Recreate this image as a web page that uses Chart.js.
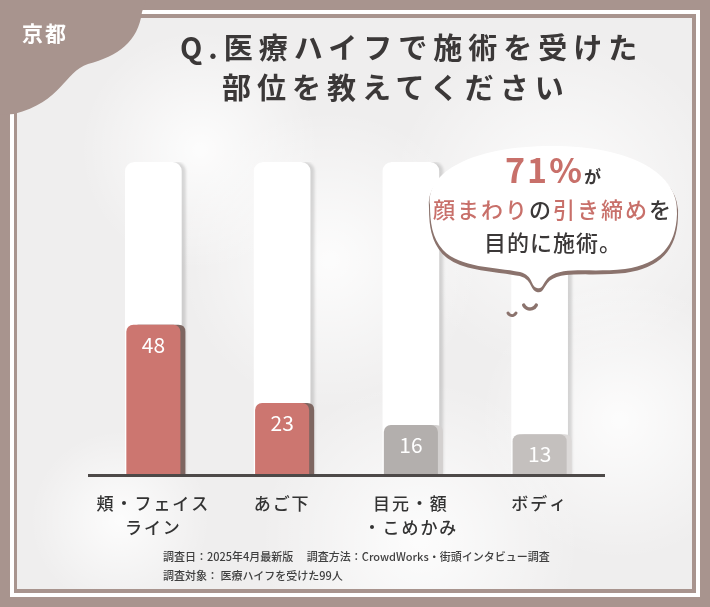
<!DOCTYPE html>
<html>
<head>
<meta charset="utf-8">
<script src="https://cdn.jsdelivr.net/npm/chart.js@4"></script>
<style>
body { margin: 0; background: #a8948e; }
#wrap { position: relative; width: 710px; height: 607px; overflow: hidden; font-family: "Noto Sans CJK JP", "Noto Sans", sans-serif; }
canvas { position: absolute; left: 0; top: 0; }
.t { position: absolute; white-space: nowrap; line-height: 1; }
#tag { left: 22px; top: 22px; font-size: 21px; font-weight: 700; color: #fff; letter-spacing: 2px; }
.ttl { font-size: 29px; font-weight: 700; color: #3b3838; letter-spacing: 6px; }
#title1 { left: 180px; top: 32px; }
#title2 { left: 222px; top: 72px; }
.bub { left: 428px; width: 250px; text-align: center; color: #3b3838; }
.red { color: #c8706a; }
#b1 { top: 152px; font-size: 17px; font-weight: 700; }
#b1 .big { font-size: 34px; letter-spacing: 2px; }
#b2 { top: 197px; font-size: 22px; font-weight: 500; letter-spacing: 2px; }
#b3 { top: 230px; font-size: 22px; font-weight: 500; letter-spacing: 1px; }
.note { left: 163px; font-size: 11px; color: #3f3f3f; font-weight: 500; }
#n1 { top: 551px; }
#n2 { top: 570px; }
</style>
</head>
<body>
<div id="wrap">
  <canvas id="chart" width="710" height="607"></canvas>
  <div class="t" id="tag">京都</div>
  <div class="t ttl" id="title1">Q.医療ハイフで施術を受けた</div>
  <div class="t ttl" id="title2">部位を教えてください</div>
  <div class="t bub" id="b1"><span class="big red">71%</span>が</div>
  <div class="t bub" id="b2"><span class="red">顔まわり</span>の<span class="red">引き締め</span>を</div>
  <div class="t bub" id="b3">目的に施術。</div>
  <div class="t note" id="n1">調査日：2025年4月最新版　 調査方法：CrowdWorks・街頭インタビュー調査</div>
  <div class="t note" id="n2">調査対象： 医療ハイフを受けた99人</div>
</div>
<script>
var categories = [['頬・フェイス', 'ライン'], 'あご下', ['目元・額', '・こめかみ'], 'ボディ'];
var counts = [48, 23, 16, 13];
var trackValues = [100, 100, 100, 100];

var barColors = ['#cc7670', '#cc7670', '#b3afad', '#c4c0be'];
var sideColors = ['#7e6661', '#7e6661', '#d3d0cf', '#dcd9d8'];
var brown = '#a8948e';

function topRounded(ctx, x1, y1, x2, y2, r) {
  ctx.beginPath();
  ctx.moveTo(x1, y2);
  ctx.lineTo(x1, y1 + r);
  ctx.quadraticCurveTo(x1, y1, x1 + r, y1);
  ctx.lineTo(x2 - r, y1);
  ctx.quadraticCurveTo(x2, y1, x2, y1 + r);
  ctx.lineTo(x2, y2);
  ctx.closePath();
}

// frame, card and corner tag
var backdrop = {
  id: 'backdrop',
  beforeDraw: function(chart) {
    var ctx = chart.ctx;
    ctx.save();
    ctx.fillStyle = brown;
    ctx.fillRect(0, 0, 710, 607);
    ctx.strokeStyle = '#ffffff';
    ctx.lineWidth = 4;
    ctx.strokeRect(12, 12, 686, 583);
    ctx.fillStyle = '#efeeee';
    ctx.fillRect(17, 18, 675, 571);
    // soft light patches
    var spots = [[560, 200, 170], [330, 260, 150], [620, 420, 140], [200, 150, 120], [420, 540, 160], [120, 520, 90]];
    ctx.save();
    ctx.beginPath();
    ctx.rect(17, 18, 675, 571);
    ctx.clip();
    spots.forEach(function(s) {
      var g = ctx.createRadialGradient(s[0], s[1], 0, s[0], s[1], s[2]);
      g.addColorStop(0, 'rgba(255,255,255,0.85)');
      g.addColorStop(1, 'rgba(255,255,255,0)');
      ctx.fillStyle = g;
      ctx.fillRect(17, 18, 675, 571);
    });
    ctx.restore();
    // corner blob
    ctx.fillStyle = brown;
    ctx.beginPath();
    ctx.moveTo(0, 0);
    ctx.lineTo(146, 0);
    ctx.lineTo(142, 12);
    ctx.bezierCurveTo(138, 42, 118, 56, 88, 64);
    ctx.bezierCurveTo(64, 72, 62, 102, 14, 114);
    ctx.lineTo(0, 115);
    ctx.closePath();
    ctx.fill();
    ctx.restore();
    ctx.letterSpacing = '2px';
  },
  beforeDatasetDraw: function(chart, args) {
    var ctx = chart.ctx;
    if (args.index === 1) {
      ctx.save();
      ctx.shadowColor = 'rgba(0,0,0,0.14)';
      ctx.shadowOffsetX = 4;
      ctx.shadowBlur = 3;
    } else {
      var meta = chart.getDatasetMeta(0);
      meta.data.forEach(function(el, i) {
        var p = el.getProps(['x', 'y', 'base', 'width'], true);
        ctx.save();
        ctx.fillStyle = sideColors[i];
        topRounded(ctx, p.x - p.width / 2 + 5, p.y, p.x + p.width / 2 + 5, p.base, 7);
        ctx.fill();
        ctx.restore();
      });
    }
  },
  afterDatasetDraw: function(chart, args) {
    if (args.index === 1) chart.ctx.restore();
  },
  afterDatasetsDraw: function(chart) {
    var ctx = chart.ctx;
    ctx.save();
    ctx.letterSpacing = '0px';
    // value labels
    var meta = chart.getDatasetMeta(0);
    ctx.fillStyle = '#ffffff';
    ctx.font = '400 21px "Noto Sans CJK JP", sans-serif';
    ctx.textAlign = 'center';
    ctx.textBaseline = 'middle';
    meta.data.forEach(function(el, i) {
      var p = el.getProps(['x', 'y'], true);
      ctx.fillText(String(counts[i]), p.x, p.y + 20);
    });
    // speech bubble
    function cloud() {
      ctx.beginPath();
      ctx.moveTo(430, 205);
      ctx.bezierCurveTo(426, 172, 472, 146, 552, 146);
      ctx.bezierCurveTo(632, 146, 680, 174, 677, 214);
      ctx.bezierCurveTo(676, 246, 660, 264, 625, 269);
      ctx.bezierCurveTo(590, 273, 564, 266, 549, 277);
      ctx.bezierCurveTo(543, 282, 543, 290, 537, 288);
      ctx.bezierCurveTo(530, 286, 534, 276, 520, 272);
      ctx.bezierCurveTo(495, 267, 460, 268, 443, 250);
      ctx.bezierCurveTo(432, 238, 430, 222, 430, 205);
      ctx.closePath();
    }
    ctx.save();
    ctx.translate(0, 3);
    cloud();
    ctx.fillStyle = '#8b736d';
    ctx.strokeStyle = '#8b736d';
    ctx.lineWidth = 2;
    ctx.fill();
    ctx.stroke();
    ctx.restore();
    cloud();
    ctx.fillStyle = '#ffffff';
    ctx.fill();
    // drops
    ctx.strokeStyle = '#8b736d';
    ctx.lineCap = 'round';
    ctx.lineWidth = 3.5;
    ctx.beginPath();
    ctx.arc(530, 302, 7, 0.15 * Math.PI, 0.85 * Math.PI);
    ctx.stroke();
    ctx.lineWidth = 3;
    ctx.beginPath();
    ctx.arc(512, 311, 4.5, 0.15 * Math.PI, 0.85 * Math.PI);
    ctx.stroke();
    ctx.restore();
  }
};

new Chart(document.getElementById('chart'), {
  type: 'bar',
  data: {
    labels: categories,
    datasets: [{
      data: counts,
      backgroundColor: barColors,
      borderRadius: 7,
      borderSkipped: 'start',
      grouped: false,
      order: 1,
      barPercentage: 0.84,
      categoryPercentage: 0.5
    }, {
      data: trackValues,
      backgroundColor: '#ffffff',
      borderRadius: 9,
      borderSkipped: 'start',
      grouped: false,
      order: 2,
      barPercentage: 0.88,
      categoryPercentage: 0.5
    }]
  },
  plugins: [backdrop],
  options: {
    responsive: false,
    animation: false,
    devicePixelRatio: 1,
    layout: { padding: { left: 89, right: 106, top: 162, bottom: 0 } },
    plugins: { legend: { display: false }, tooltip: { enabled: false } },
    scales: {
      x: {
        grid: { display: false },
        border: { display: true, color: '#4d4948', width: 3, z: 1 },
        ticks: {
          color: '#333',
          font: { family: '"Noto Sans CJK JP", sans-serif', size: 17, weight: '500', lineHeight: 1.45 },
          padding: 8,
          maxRotation: 0,
          autoSkip: false
        },
        afterFit: function(s) { s.height = 132; }
      },
      y: { display: false, min: 0, max: 100 }
    }
  }
});
</script>
</body>
</html>
